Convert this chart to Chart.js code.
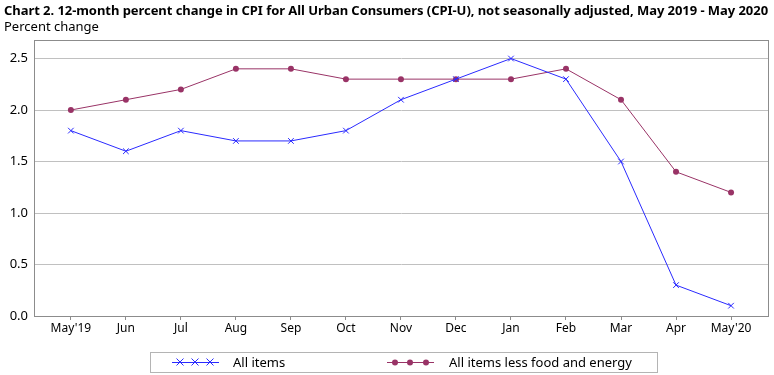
<!DOCTYPE html>
<html><head><meta charset="utf-8">
<script src="https://cdn.jsdelivr.net/npm/chart.js@4/dist/chart.umd.min.js"></script>
<style>
html,body{margin:0;padding:0;background:#fff;}
#wrap{position:relative;width:774px;height:375px;}
#title{position:absolute;left:4px;top:1px;font:bold 13px "Noto Sans",sans-serif;color:#000;white-space:nowrap;}
#sub{position:absolute;left:4px;top:17px;font:13px "Noto Sans",sans-serif;color:#000;white-space:nowrap;}
canvas{position:absolute;left:0;top:0;}
</style></head>
<body><div id="wrap">
<canvas id="c" width="774" height="375"></canvas>
<div id="title">Chart 2. 12-month percent change in CPI for All Urban Consumers (CPI-U), not seasonally adjusted, May 2019 - May 2020</div>
<div id="sub">Percent change</div>
</div>
<script>
const categories = ["May'19","Jun","Jul","Aug","Sep","Oct","Nov","Dec","Jan","Feb","Mar","Apr","May'20"];
const allItems = [1.8,1.6,1.8,1.7,1.7,1.8,2.1,2.3,2.5,2.3,1.5,0.3,0.1];
const coreItems = [2.0,2.1,2.2,2.4,2.4,2.3,2.3,2.3,2.3,2.4,2.1,1.4,1.2];
const yTicks = [0,0.5,1.0,1.5,2.0,2.5];
const seriesNames = ["All items","All items less food and energy"];

// fit title width to reference (~766px)
(function(){
  const t = document.getElementById('title');
  const w = t.getBoundingClientRect().width;
  const n = t.textContent.length;
  t.style.letterSpacing = ((764 - w) / n).toFixed(3) + 'px';
})();

const BLUE = '#2a2aff', PURPLE = '#993366';
const FONT = '"Noto Sans", sans-serif';

const frame = {
  id:'frame',
  afterDraw(chart){
    const {ctx, chartArea:a} = chart;
    ctx.save();
    ctx.strokeStyle = '#8c8c8c'; ctx.lineWidth = 1;
    ctx.strokeRect(Math.round(a.left)+0.5, Math.round(a.top)+0.5, Math.round(a.right-a.left)-1, Math.round(a.bottom-a.top));
    const ly = 362;
    ctx.strokeStyle = '#b4b4b4';
    ctx.strokeRect(150.5, 352.5, 507, 20);
    ctx.strokeStyle = BLUE; ctx.lineWidth = 1;
    ctx.beginPath(); ctx.moveTo(172, ly+0.5); ctx.lineTo(219, ly+0.5); ctx.stroke();
    [180,195,210].forEach(x=>{
      ctx.beginPath(); ctx.moveTo(x-3.5, ly-3.5); ctx.lineTo(x+3.5, ly+3.5);
      ctx.moveTo(x-3.5, ly+3.5); ctx.lineTo(x+3.5, ly-3.5); ctx.stroke();
    });
    ctx.strokeStyle = PURPLE; ctx.fillStyle = PURPLE;
    ctx.beginPath(); ctx.moveTo(387, ly+0.5); ctx.lineTo(434, ly+0.5); ctx.stroke();
    [395,410,426].forEach(x=>{ ctx.beginPath(); ctx.arc(x, ly+0.5, 3, 0, Math.PI*2); ctx.fill(); });
    ctx.fillStyle = '#000'; ctx.font = '13px ' + FONT; ctx.textBaseline = 'middle';
    ctx.fillText(seriesNames[0], 233, ly+1);
    ctx.fillText(seriesNames[1], 449, ly+1);
    ctx.restore();
  }
};

new Chart(document.getElementById('c'), {
  type:'line',
  data:{
    labels: categories,
    datasets:[
      {label:seriesNames[0], data: allItems.map((v,i)=>({x:i,y:v})), borderColor:BLUE, backgroundColor:BLUE,
       borderWidth:1, pointStyle:'crossRot', pointRadius:4, pointBorderWidth:1, pointHoverRadius:4, tension:0},
      {label:seriesNames[1], data: coreItems.map((v,i)=>({x:i,y:v})), borderColor:PURPLE, backgroundColor:PURPLE,
       borderWidth:1, pointStyle:'circle', pointRadius:3, pointBorderWidth:0, pointHoverRadius:3, tension:0}
    ]
  },
  options:{
    responsive:false, animation:false, devicePixelRatio:1,
    layout:{padding:{top:40,left:0,right:3,bottom:35}},
    plugins:{legend:{display:false}, title:{display:false}, tooltip:{enabled:false}},
    scales:{
      x:{type:'linear', min:-0.67, max:12.69,
        afterBuildTicks(s){ s.ticks = categories.map((c,i)=>({value:i})); },
        afterFit(s){ s.height = 24; },
        ticks:{callback:(v)=>categories[v], color:'#000', font:{family:FONT,size:12}, padding:1, maxRotation:0, autoSkip:false},
        grid:{drawOnChartArea:false, drawTicks:true, tickLength:4, color:'#8c8c8c'},
        border:{display:false}
      },
      y:{min:0, max:2.68,
        afterBuildTicks(s){ s.ticks = yTicks.map(v=>({value:v})); },
        afterFit(s){ s.width = 34; },
        ticks:{callback:(v)=>v.toFixed(1), color:'#000', font:{family:FONT,size:13}, padding:6},
        grid:{color:'#c0c0c0', drawTicks:false, tickLength:0},
        border:{display:false}
      }
    }
  },
  plugins:[frame]
});
</script>
</body></html>
